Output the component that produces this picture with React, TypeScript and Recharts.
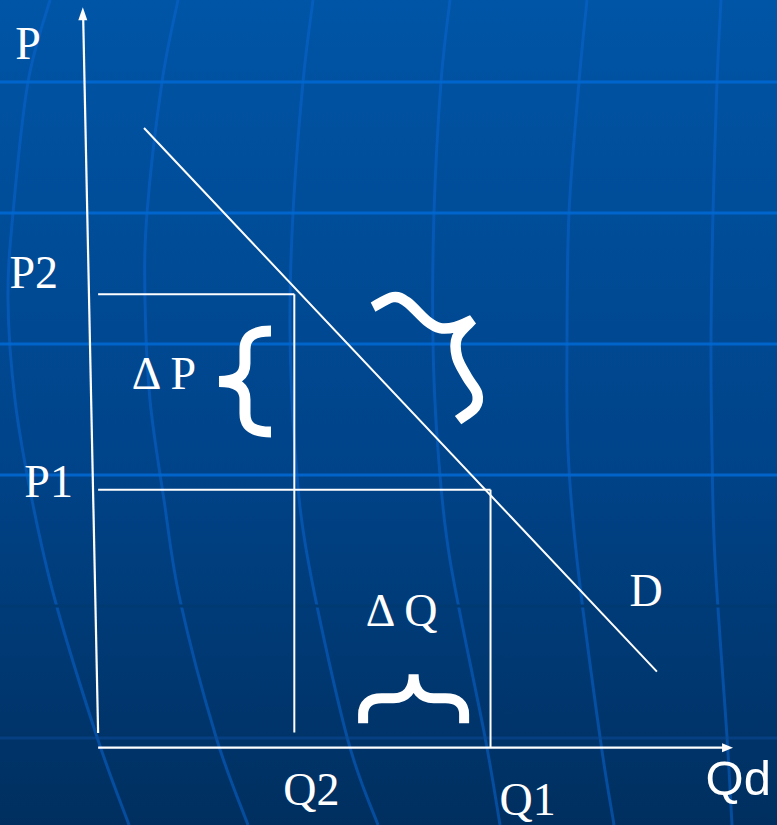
import React from 'react';
import { ComposedChart, Line, XAxis, YAxis, ReferenceLine, ReferenceDot } from 'recharts';

const W = 777;
const H = 825;

// ---- Economic values (quantity q, price p) ----
const Q2 = 5;
const Q1 = 10;
const P1 = 6;
const P2 = 10.55;
const FLOOR_P = 0.35; // where the price axis and the Q2 drop line stop

const demandQ = [1.17, 14.24];
const demandP = [14.42, 1.77];
const demand = demandQ.map((q, i) => ({ q, p: demandP[i] }));

const xDomain: [number, number] = [-2.5, 17.3];
const yDomain: [number, number] = [-1.8, 17.4];

// axes (quantity axis and slightly slanted price axis)
const qAxisEnd = 15.95;
const qArrowTip = 16.18;
const pAxisBottom = { q: 0, p: 0.34 };
const pAxisTop = { q: -0.38, p: 16.98 };
const pArrowTip = { q: -0.39, p: 17.23 };

// ---- Labels ----
const labelText = ['P', 'P2', 'Δ P', 'P1', 'D', 'Δ Q', 'Q2', 'Q1', 'Qd'];
const labelQ = [-2.11, -2.26, 0.86, -1.88, 13.54, 6.82, 4.72, 10.23, 15.48];
const labelP = [16.03, 10.7, 8.35, 5.83, 3.3, 2.83, -1.33, -1.57, -1.1];
const labelSans = [false, false, false, false, false, false, false, false, true];

// ---- Brace anchors (cusp of each brace) ----
const braceQ = [3.08, 8.04, 9.53];
const braceP = [8.52, 1.71, 9.95];
const braceKind = ['left', 'up', 'tilted'];

// ---- Background decoration (globe grid) ----
const gridRowsY = [82, 213, 344, 475];
const faintRowsY = [606, 738];
const meridians: [number, number][][] = [
  [[50, 0], [28, 82], [13, 213], [8, 300], [15, 400], [32, 500], [55, 600], [97, 737], [129, 825]],
  [[178, 0], [162, 82], [147, 213], [145, 300], [150, 400], [164, 500], [180, 600], [216, 737], [248, 825]],
  [[313, 0], [303, 82], [293, 213], [290, 330], [295, 450], [308, 560], [347, 737], [378, 825]],
  [[450, 0], [441, 82], [434, 213], [433, 343], [438, 450], [450, 560], [485, 737], [500, 825]],
  [[587, 0], [579, 82], [569, 213], [567, 343], [568, 450], [577, 560], [600, 737], [614, 825]],
  [[721, 0], [717, 82], [713, 213], [711, 343], [712, 450], [715, 560], [727, 737], [732, 825]],
];

function smoothSegs(pts: number[][]): string {
  let d = '';
  for (let i = 0; i < pts.length - 1; i++) {
    const p0 = pts[i - 1] || pts[i];
    const p1 = pts[i];
    const p2 = pts[i + 1];
    const p3 = pts[i + 2] || p2;
    const c1x = p1[0] + (p2[0] - p0[0]) / 6;
    const c1y = p1[1] + (p2[1] - p0[1]) / 6;
    const c2x = p2[0] - (p3[0] - p1[0]) / 6;
    const c2y = p2[1] - (p3[1] - p1[1]) / 6;
    d += ` C${c1x},${c1y} ${c2x},${c2y} ${p2[0]},${p2[1]}`;
  }
  return d;
}
function smoothPath(pts: number[][]): string {
  return `M${pts[0][0]},${pts[0][1]}` + smoothSegs(pts);
}

const tiltArm1 = [[-99, -13], [-79, -23], [-65, -18], [-45, 1], [-32, 8], [-17, 7], [0, 0]];
const tiltArm2 = [[0, 0], [-15, 17], [-15, 37], [-5, 57], [5, 73], [3, 87], [-14, 100]];

const braceShape = (kind: string) => (props: any) => {
  const { cx, cy } = props;
  let d = '';
  let sw = 10;
  if (kind === 'left') {
    sw = 11;
    d =
      'M52,-50.5 C35,-50.5 26,-46 26,-32 L26,-18 C26,-6 18,0 0,0 ' +
      'C18,0 26,6 26,18 L26,32 C26,46 35,50.5 52,50.5';
  } else if (kind === 'up') {
    sw = 10;
    d =
      'M-50.5,49 L-50.5,40 C-50.5,30 -44,24 -32,24 L-20,24 C-8,24 0,16 0,0 ' +
      'C0,16 8,24 20,24 L32,24 C44,24 50.5,30 50.5,40 L50.5,49';
  } else {
    sw = 10.5;
    d = smoothPath(tiltArm1) + smoothSegs(tiltArm2);
  }
  return (
    <path
      d={d}
      transform={`translate(${cx},${cy})`}
      fill="none"
      stroke="#ffffff"
      strokeWidth={sw}
      strokeLinecap="butt"
      strokeLinejoin="bevel"
    />
  );
};

const textShape = (text: string, sans: boolean) => (props: any) => (
  <text
    x={props.cx}
    y={props.cy}
    fill="#ffffff"
    textAnchor="start"
    fontFamily={sans ? '"Liberation Sans", Arial, sans-serif' : '"Liberation Serif", "Times New Roman", serif'}
    fontSize={sans ? 49 : 46}
  >
    {text}
  </text>
);

const upArrow = (props: any) => (
  <path d={`M${props.cx},${props.cy} L${props.cx - 4.5},${props.cy + 13} L${props.cx + 4.5},${props.cy + 13} Z`} fill="#ffffff" />
);
const rightArrow = (props: any) => (
  <path d={`M${props.cx},${props.cy} L${props.cx - 11},${props.cy - 4.5} L${props.cx - 11},${props.cy + 4.5} Z`} fill="#ffffff" />
);

function Background() {
  return (
    <svg width={W} height={H} style={{ position: 'absolute', left: 0, top: 0 }}>
      <defs>
        <linearGradient id="bgGrad" x1="0" y1="0" x2="0" y2="1">
          <stop offset="0" stopColor="#0055A6" />
          <stop offset="0.55" stopColor="#00448A" />
          <stop offset="1" stopColor="#002F5F" />
        </linearGradient>
      </defs>
      <rect x={0} y={0} width={W} height={H} fill="url(#bgGrad)" />
      {meridians.map((m, i) => (
        <path key={`m${i}`} d={smoothPath(m)} fill="none" stroke="#0a64d0" strokeOpacity={0.55} strokeWidth={3} />
      ))}
      {gridRowsY.map((y) => (
        <line key={`h${y}`} x1={0} x2={W} y1={y} y2={y} stroke="#0068D2" strokeOpacity={0.9} strokeWidth={3} />
      ))}
      <line x1={0} x2={W} y1={faintRowsY[0]} y2={faintRowsY[0]} stroke="#003A72" strokeWidth={3} />
      <line x1={0} x2={W} y1={faintRowsY[1]} y2={faintRowsY[1]} stroke="#0a4a94" strokeOpacity={0.6} strokeWidth={3} />
    </svg>
  );
}

export default function App() {
  return (
    <div style={{ position: 'absolute', left: 0, top: 0, width: W, height: H, overflow: 'hidden' }}>
      <Background />
      <div style={{ position: 'absolute', left: 0, top: 0 }}>
        <ComposedChart width={W} height={H} data={demand} margin={{ top: 0, right: 0, bottom: 0, left: 0 }}>
          <XAxis type="number" dataKey="q" domain={xDomain} hide allowDataOverflow />
          <YAxis type="number" domain={yDomain} hide allowDataOverflow />

          {/* axes */}
          <ReferenceLine segment={[{ x: 0, y: 0 }, { x: qAxisEnd, y: 0 }]} stroke="#ffffff" strokeWidth={2.2} />
          <ReferenceLine
            segment={[{ x: pAxisBottom.q, y: pAxisBottom.p }, { x: pAxisTop.q, y: pAxisTop.p }]}
            stroke="#ffffff"
            strokeWidth={2.2}
          />
          <ReferenceDot x={qArrowTip} y={0} r={0} shape={rightArrow} />
          <ReferenceDot x={pArrowTip.q} y={pArrowTip.p} r={0} shape={upArrow} />

          {/* guide lines */}
          <ReferenceLine segment={[{ x: 0, y: P2 }, { x: Q2, y: P2 }]} stroke="#ffffff" strokeWidth={2} />
          <ReferenceLine segment={[{ x: Q2, y: P2 }, { x: Q2, y: FLOOR_P }]} stroke="#ffffff" strokeWidth={2} />
          <ReferenceLine segment={[{ x: 0, y: P1 }, { x: Q1, y: P1 }]} stroke="#ffffff" strokeWidth={2} />
          <ReferenceLine segment={[{ x: Q1, y: P1 }, { x: Q1, y: 0 }]} stroke="#ffffff" strokeWidth={2} />

          {/* demand curve */}
          <Line
            type="linear"
            dataKey="p"
            stroke="#ffffff"
            strokeWidth={2}
            dot={false}
            activeDot={false}
            isAnimationActive={false}
          />

          {/* braces */}
          {braceKind.map((k, i) => (
            <ReferenceDot key={`b${i}`} x={braceQ[i]} y={braceP[i]} r={0} shape={braceShape(k)} />
          ))}

          {/* labels */}
          {labelText.map((t, i) => (
            <ReferenceDot key={`l${i}`} x={labelQ[i]} y={labelP[i]} r={0} shape={textShape(t, labelSans[i])} />
          ))}
        </ComposedChart>
      </div>
    </div>
  );
}
